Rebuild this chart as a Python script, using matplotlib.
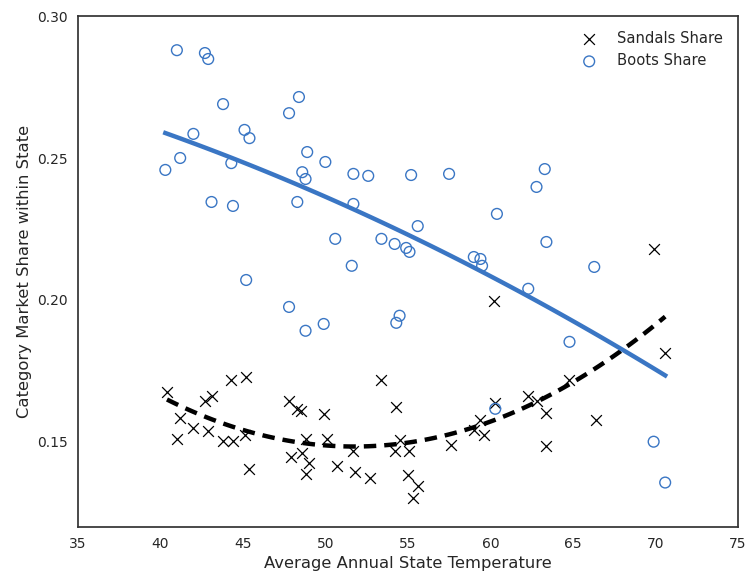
import numpy as np
import matplotlib
matplotlib.use("Agg")
import matplotlib.pyplot as plt

# average annual temperature and category share per state
boots_temp = [40.3, 41.0, 41.2, 42.0, 42.7, 42.9, 43.1, 43.8, 44.3, 44.4,
              45.1, 45.2, 45.4, 47.8, 47.8, 48.3, 48.4, 48.6, 48.8, 48.8,
              48.9, 49.9, 50.0, 50.6, 51.6, 51.7, 51.7, 52.6, 53.4, 54.2,
              54.3, 54.5, 54.9, 55.1, 55.2, 55.6, 57.5, 59.0, 59.4, 59.5,
              60.3, 60.4, 62.3, 62.8, 63.3, 63.4, 64.8, 66.3, 69.9, 70.6]
boots_share = [0.2458, 0.2880, 0.2500, 0.2585, 0.2870, 0.2849, 0.2345, 0.2690, 0.2482, 0.2331,
               0.2599, 0.2070, 0.2570, 0.2658, 0.1975, 0.2345, 0.2715, 0.2450, 0.2426, 0.1891,
               0.2521, 0.1915, 0.2486, 0.2215, 0.2120, 0.2338, 0.2444, 0.2437, 0.2215, 0.2197,
               0.1919, 0.1944, 0.2183, 0.2169, 0.2440, 0.2260, 0.2444, 0.2151, 0.2144, 0.2120,
               0.1616, 0.2303, 0.2039, 0.2398, 0.2461, 0.2204, 0.1852, 0.2116, 0.1500, 0.1356]

sandals_temp = [40.4, 41.0, 41.2, 42.0, 42.7, 43.1, 42.9, 43.8, 44.4, 44.3,
                45.2, 45.1, 45.4, 47.8, 48.3, 48.5, 49.9, 48.8, 50.1, 48.6,
                47.9, 49.0, 48.8, 50.7, 53.4, 54.3, 59.4, 59.0, 59.6, 60.3,
                62.3, 62.8, 54.5, 51.7, 54.2, 55.1, 57.6, 51.8, 52.7, 55.0,
                55.6, 55.3, 60.2, 63.4, 63.4, 64.8, 66.4, 69.9, 70.6]
sandals_share = [0.1675, 0.1510, 0.1583, 0.1550, 0.1642, 0.1662, 0.1536, 0.1504, 0.1504, 0.1716,
                 0.1728, 0.1522, 0.1405, 0.1645, 0.1615, 0.1609, 0.1599, 0.1511, 0.1511, 0.1460,
                 0.1445, 0.1425, 0.1386, 0.1413, 0.1716, 0.1623, 0.1575, 0.1542, 0.1525, 0.1638,
                 0.1660, 0.1642, 0.1507, 0.1466, 0.1466, 0.1466, 0.1488, 0.1392, 0.1372, 0.1384,
                 0.1345, 0.1303, 0.1996, 0.1601, 0.1486, 0.1716, 0.1575, 0.2180, 0.1814]

blue = "#3a76c4"
text_color = "#262626"

plt.rcParams['font.family'] = ['DejaVu Sans']
fig = plt.figure(figsize=(7.49, 5.77), dpi=100)
ax = fig.add_axes([0.104, 0.087, 0.881, 0.885])

ax.scatter(sandals_temp, sandals_share, marker='x', s=60, color='black',
           linewidths=0.9, label='Sandals Share', zorder=3)
ax.scatter(boots_temp, boots_share, marker='o', s=60, facecolors='none',
           edgecolors=blue, linewidths=1.0, label='Boots Share', zorder=3)

# second order fits, like regplot(order=2)
for xs, ys, style in [(sandals_temp, sandals_share, dict(color='black', ls=(0, (2.8, 1.8)))),
                      (boots_temp, boots_share, dict(color=blue, ls='-'))]:
    coef = np.polyfit(xs, ys, 2)
    grid = np.linspace(min(xs), max(xs), 100)
    ax.plot(grid, np.polyval(coef, grid), lw=3.2, zorder=2, **style)

ax.set_xlim(35, 75)
ax.set_ylim(0.12, 0.30)
ax.set_xticks(np.arange(35, 76, 5))
ax.set_yticks([0.15, 0.20, 0.25, 0.30])
ax.tick_params(length=0, labelsize=10, colors=text_color, pad=7)
for s in ax.spines.values():
    s.set_color('#333333')
    s.set_linewidth(1.25)

ax.set_xlabel('Average Annual State Temperature', fontsize=11.8, color=text_color)
ax.set_ylabel('Category Market Share within State', fontsize=11.8, color=text_color)

leg = ax.legend(loc='upper right', frameon=False, fontsize=10.6, scatterpoints=1,
                handletextpad=0.9, borderaxespad=0.6)
for t in leg.get_texts():
    t.set_color(text_color)

fig.savefig('out.png', dpi=100)
